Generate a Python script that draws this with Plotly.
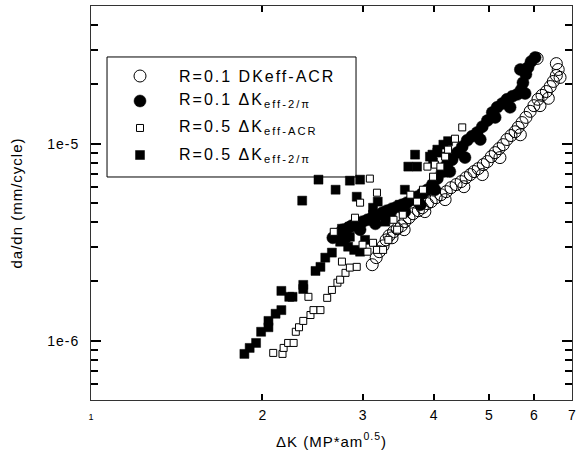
import plotly.graph_objects as go

# R=0.1 DKeff-ACR (open circles)
k_r01_acr = [3.12, 3.17, 3.21, 3.26, 3.30, 3.34, 3.40, 3.45, 3.51, 3.56, 3.62, 3.68, 3.76, 3.82,
             3.90, 3.96, 4.04, 4.12, 4.21, 4.29, 4.38, 4.47, 4.56, 4.64, 4.71, 4.79, 4.89, 4.97,
             5.05, 5.13, 5.21, 5.30, 5.38, 5.47, 5.56, 5.63, 5.72, 5.81, 5.91, 6.00, 6.10, 6.20,
             6.31, 6.41, 6.49, 6.57, 6.62, 6.57, 6.08,
             3.38, 3.55, 3.86, 4.19, 4.52, 4.87, 5.23, 5.68, 6.15, 6.36, 6.67]
v_r01_acr = [2.43e-6, 2.64e-6, 2.83e-6, 3.03e-6, 3.25e-6, 3.41e-6, 3.57e-6, 3.70e-6, 3.83e-6, 4.02e-6,
             4.21e-6, 4.41e-6, 4.57e-6, 4.73e-6, 4.96e-6, 5.08e-6, 5.32e-6, 5.51e-6, 5.71e-6, 5.98e-6,
             6.20e-6, 6.42e-6, 6.72e-6, 6.97e-6, 7.22e-6, 7.47e-6, 7.83e-6, 8.11e-6, 8.60e-6, 9.01e-6,
             9.44e-6, 9.89e-6, 1.05e-5, 1.10e-5, 1.15e-5, 1.21e-5, 1.28e-5, 1.36e-5, 1.46e-5, 1.56e-5,
             1.68e-5, 1.76e-5, 1.84e-5, 1.95e-5, 2.07e-5, 2.22e-5, 2.38e-5, 2.55e-5, 2.71e-5,
             3.33e-6, 3.66e-6, 4.52e-6, 5.20e-6, 6.05e-6, 6.97e-6, 8.50e-6, 1.11e-5, 1.56e-5, 1.70e-5, 2.17e-5]

# R=0.1 dKeff-2/pi (filled circles)
k_r01_2pi = [2.66, 2.72, 2.77, 2.83, 2.87, 2.93, 3.00, 3.06, 3.12, 3.18, 3.25, 3.31, 3.38, 3.45,
             3.52, 3.59, 3.67, 3.74, 3.82, 3.90, 3.98, 4.06, 4.14, 4.22, 4.31, 4.40, 4.49, 4.58,
             4.67, 4.77, 4.87, 4.97, 5.07, 5.17, 5.28, 5.38, 5.50, 5.61, 5.70, 5.74, 5.81, 5.86,
             5.93, 6.03,
             2.80, 2.97, 3.16, 3.35, 3.56, 3.79, 4.02, 4.27, 4.54, 4.83, 5.13, 5.45, 5.79, 5.68]
v_r01_2pi = [3.33e-6, 3.49e-6, 3.66e-6, 3.74e-6, 3.83e-6, 3.92e-6, 4.02e-6, 4.11e-6, 4.21e-6, 4.31e-6,
             4.46e-6, 4.57e-6, 4.68e-6, 4.79e-6, 4.90e-6, 5.02e-6, 5.20e-6, 5.38e-6, 5.58e-6, 5.84e-6,
             6.20e-6, 6.65e-6, 7.22e-6, 7.83e-6, 8.30e-6, 9.01e-6, 9.66e-6, 1.04e-5, 1.09e-5, 1.14e-5,
             1.22e-5, 1.31e-5, 1.44e-5, 1.53e-5, 1.60e-5, 1.68e-5, 1.74e-5, 1.78e-5, 1.88e-5, 2.04e-5,
             2.25e-5, 2.44e-5, 2.61e-5, 2.74e-5,
             3.33e-6, 3.66e-6, 3.92e-6, 4.31e-6, 4.52e-6, 4.90e-6, 5.84e-6, 7.22e-6, 8.50e-6, 1.05e-5,
             1.36e-5, 1.53e-5, 1.80e-5, 2.38e-5]

# R=0.5 dKeff-ACR (open squares)
k_r05_acr = [2.09, 2.17, 2.18, 2.22, 2.27, 2.29, 2.32, 2.36, 2.43, 2.46, 2.53, 2.41, 2.60, 2.65,
             2.71, 2.74, 2.80, 2.85, 2.93, 3.06, 3.13, 3.18, 3.26, 2.67, 2.91, 2.97, 3.18, 3.09,
             3.40, 3.45, 3.74, 3.83, 3.90, 4.02, 3.99, 4.11, 4.19, 4.36, 4.49,
             2.76, 3.00, 3.33, 3.53, 3.64, 4.24]
v_r05_acr = [8.67e-7, 8.57e-7, 9.19e-7, 9.74e-7, 9.74e-7, 1.11e-6, 1.17e-6, 1.26e-6, 1.35e-6, 1.43e-6,
             1.43e-6, 1.67e-6, 1.65e-6, 1.81e-6, 1.97e-6, 2.04e-6, 2.21e-6, 2.35e-6, 2.37e-6, 2.83e-6,
             3.14e-6, 2.89e-6, 2.89e-6, 3.57e-6, 4.21e-6, 5.02e-6, 5.64e-6, 6.65e-6, 4.11e-6, 3.66e-6,
             5.08e-6, 5.84e-6, 7.65e-6, 7.83e-6, 6.80e-6, 7.65e-6, 8.60e-6, 1.06e-5, 1.21e-5,
             2.52e-6, 3.07e-6, 3.25e-6, 4.36e-6, 5.51e-6, 9.33e-6]

# R=0.5 dKeff-2/pi (filled squares)
k_r05_2pi = [1.86, 1.90, 1.95, 1.99, 2.05, 2.05, 2.11, 2.16, 2.16, 2.23, 2.26, 2.36, 2.36, 2.48,
             2.53, 2.58, 2.65, 2.74, 2.76, 2.85, 2.96, 2.83, 2.90, 2.97, 3.13, 3.13, 2.35, 2.51,
             2.69, 2.85, 2.97, 2.93, 3.19, 3.38, 3.29, 2.85, 3.56, 3.61, 3.71, 3.74, 3.98, 4.06,
             4.24, 4.16, 4.06, 3.94, 4.22, 3.99, 4.16, 3.49, 3.03]
v_r05_2pi = [8.57e-7, 9.19e-7, 9.74e-7, 1.11e-6, 1.17e-6, 1.26e-6, 1.37e-6, 1.43e-6, 1.79e-6, 1.67e-6,
             1.67e-6, 1.92e-6, 1.83e-6, 2.26e-6, 2.37e-6, 2.64e-6, 2.80e-6, 3.18e-6, 3.70e-6, 3.79e-6,
             3.79e-6, 3.00e-6, 2.89e-6, 2.83e-6, 4.73e-6, 4.36e-6, 5.14e-6, 6.57e-6, 5.84e-6, 6.49e-6,
             6.57e-6, 5.38e-6, 5.08e-6, 4.62e-6, 4.02e-6, 3.37e-6, 5.84e-6, 7.65e-6, 8.80e-6, 7.65e-6,
             8.80e-6, 9.33e-6, 1.03e-5, 9.89e-6, 9.01e-6, 8.60e-6, 8.60e-6, 8.01e-6, 7.13e-6, 4.90e-6,
             3.25e-6]

x_tick_vals = [1, 2, 3, 4, 5, 6, 7]
x_tick_labels = ["1", "2", "3", "4", "5", "6", "7"]
y_tick_vals = [1e-6, 1e-5]
y_tick_labels = ["1e-6", "1e-5"]
y_minor_vals = [5e-7, 6e-7, 7e-7, 8e-7, 9e-7, 2e-6, 3e-6, 4e-6, 5e-6, 6e-6, 7e-6, 8e-6, 9e-6,
                2e-5, 3e-5, 4e-5]

legend_labels = ["R=0.1 DKeff-ACR",
                 "R=0.1 \u0394K<sub>eff-2/\u03c0</sub>",
                 "R=0.5 \u0394K<sub>eff-ACR</sub>",
                 "R=0.5 \u0394K<sub>eff-2/\u03c0</sub>"]
x_title = "\u0394K (MP*am<sup>0.5</sup>)"
y_title = "da/dn (mm/cycle)"

FONT = "Arial, Liberation Sans, sans-serif"


def spaced(t, px):
    return '<span style="letter-spacing:%spx">%s</span>' % (px, t)


x_tick_text = ['<span style="font-size:9px">%s</span>' % x_tick_labels[0]] + x_tick_labels[1:]
y_tick_text = [spaced(t, 1) for t in y_tick_labels]

styles = [
    dict(symbol="circle", size=12, color="rgba(0,0,0,0)", line=dict(color="black", width=1)),
    dict(symbol="circle", size=12, color="black", line=dict(color="black", width=0.5)),
    dict(symbol="square", size=7, color="white", line=dict(color="black", width=1)),
    dict(symbol="square", size=9, color="black", line=dict(color="black", width=0.5)),
]

fig = go.Figure()
series = [(k_r01_2pi, v_r01_2pi, 1), (k_r01_acr, v_r01_acr, 0),
          (k_r05_2pi, v_r05_2pi, 3), (k_r05_acr, v_r05_acr, 2)]
for xs, ys, si in series:
    fig.add_trace(go.Scatter(x=xs, y=ys, mode="markers", marker=styles[si],
                             name=legend_labels[si], showlegend=False))

# custom legend (box + symbols + text)
leg_x0, leg_x1, leg_y0, leg_y1 = 0.0333, 0.551, 0.566, 0.8706
row_y = [0.8223, 0.7589, 0.6904, 0.6218]
sym_x = 0.1019
txt_x = 0.178
fig.add_shape(type="rect", xref="paper", yref="paper", x0=leg_x0, x1=leg_x1, y0=leg_y0, y1=leg_y1,
              line=dict(color="black", width=1), fillcolor="white", layer="below")
for i, lab in enumerate(legend_labels):
    fig.add_trace(go.Scatter(x=[sym_x], y=[row_y[i]], xaxis="x2", yaxis="y2", mode="markers",
                             marker=styles[i], showlegend=False, hoverinfo="skip"))
    fig.add_annotation(x=txt_x, y=row_y[i], xref="paper", yref="paper", text=spaced(lab, 2),
                       showarrow=False, xanchor="left", yanchor="middle",
                       font=dict(family=FONT, size=16, color="black"))

axis_common = dict(showgrid=False, zeroline=False, showline=True, linecolor="#333", linewidth=1,
                   mirror="ticks", ticks="inside", tickcolor="black", tickwidth=2, automargin=False)

fig.update_layout(
    width=577, height=461,
    margin=dict(l=91, r=5, t=6, b=61),
    paper_bgcolor="white", plot_bgcolor="white",
    font=dict(family=FONT, color="black"),
    xaxis=dict(type="log", range=[0, 0.84510], tickvals=x_tick_vals, ticktext=x_tick_text,
               ticklen=6, tickfont=dict(size=14), ticklabelstandoff=2,
               title=dict(text=spaced(x_title, 1), font=dict(size=15), standoff=14),
               **axis_common),
    yaxis=dict(type="log", range=[-6.30103, -4.30103], tickvals=y_tick_vals, ticktext=y_tick_text,
               ticklen=10, tickfont=dict(size=14), ticklabelstandoff=8,
               minor=dict(tickvals=y_minor_vals, ticks="inside", ticklen=7, tickwidth=2,
                          tickcolor="black"),
               title=dict(text=spaced(y_title, 1), font=dict(size=15), standoff=20),
               **axis_common),
    xaxis2=dict(overlaying="x", range=[0, 1], visible=False, fixedrange=True),
    yaxis2=dict(overlaying="y", range=[0, 1], visible=False, fixedrange=True),
)

fig.write_html("out.html", config={"displayModeBar": False},
               post_script="document.body.style.margin='0';")
